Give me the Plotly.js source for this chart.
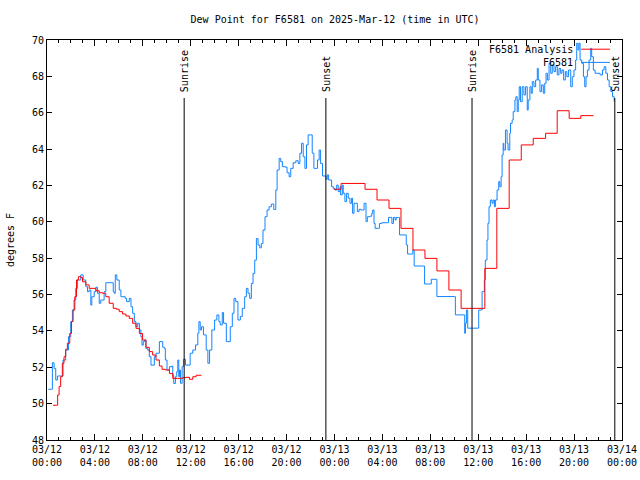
<!DOCTYPE html>
<html>
<head>
<meta charset="utf-8">
<script src="https://cdn.plot.ly/plotly-3.0.1.min.js"></script>
<style>html,body{margin:0;padding:0;background:#fff;}#chart{width:640px;height:480px;}</style>
</head>
<body>
<div id="chart"></div>
<script>
// hours since 2025-03-12 00:00 UTC
const obsHours = [0.11,0.39,0.45,0.59,0.73,0.87,1.14,1.34,1.56,1.79,1.98,2.12,2.26,2.40,2.54,2.82,3.02,3.24,3.38,3.52,3.66,3.74,3.94,4.08,4.22,4.36,4.49,4.77,4.91,5.42,5.53,5.61,5.70,5.83,6.03,6.17,6.53,6.64,6.87,7.01,7.15,7.29,7.43,7.57,7.71,7.84,7.93,8.04,8.15,8.26,8.40,8.54,8.68,8.96,9.10,9.38,9.66,9.80,9.88,10.02,10.22,10.44,10.50,10.58,10.72,10.83,10.92,11.00,11.06,11.14,11.28,11.39,11.56,11.84,11.95,12.17,12.40,12.59,12.68,12.79,12.90,13.06,13.29,13.43,13.57,13.76,13.99,14.18,14.35,14.46,14.63,14.74,14.97,15.19,15.30,15.47,15.61,15.75,15.94,16.14,16.30,16.50,16.64,16.78,16.92,17.06,17.20,17.34,17.48,17.62,17.76,17.89,18.03,18.20,18.37,18.54,18.73,18.93,19.10,19.21,19.38,19.51,19.65,19.93,20.04,20.21,20.35,20.55,20.77,20.97,21.11,21.25,21.39,21.53,21.66,21.80,21.97,22.14,22.28,22.44,22.58,22.72,22.84,23.00,23.28,23.40,23.51,23.76,23.90,24.04,24.18,24.31,24.46,24.51,24.65,24.73,24.87,25.01,25.15,25.29,25.43,25.51,25.63,25.79,25.91,26.05,26.19,26.35,26.47,26.63,26.74,26.97,27.11,27.19,27.30,27.39,27.67,27.75,27.95,28.45,28.51,28.70,28.79,28.92,29.06,29.15,29.34,29.43,29.91,29.99,30.10,30.46,30.54,30.65,31.43,31.52,31.99,32.08,32.49,32.55,34.00,34.09,34.78,34.87,34.93,35.01,35.12,35.96,36.04,36.25,36.32,36.45,36.51,36.59,36.73,36.81,36.90,37.01,37.15,37.24,37.35,37.43,37.57,37.71,37.80,37.91,37.99,38.08,38.13,38.27,38.41,38.49,38.63,38.69,38.83,38.92,39.06,39.14,39.25,39.34,39.42,39.53,39.67,39.81,39.95,40.09,40.17,40.31,40.42,40.51,40.65,40.79,40.93,41.01,41.15,41.29,41.43,41.55,41.66,41.77,41.91,42.05,42.18,42.32,42.46,42.60,42.74,42.88,42.99,43.13,43.27,43.40,43.54,43.72,43.85,43.99,44.13,44.22,44.33,44.41,44.50,44.64,44.78,44.89,45.00,45.11,45.25,45.39,45.47,45.61,45.75,46.17,46.37,46.51,46.65,46.79,46.93,47.07,47.21,47.35];
const obsDew = [50.79,50.79,52.25,51.94,51.30,51.52,51.52,52.40,52.95,53.68,54.51,55.15,55.70,56.34,56.80,57.08,56.80,56.43,56.16,56.25,55.42,55.88,56.16,56.40,56.07,55.52,55.70,56.16,56.65,56.65,56.16,56.07,57.08,56.80,56.25,55.88,55.79,55.61,55.79,55.33,54.97,54.51,54.23,54.42,54.05,53.68,53.22,53.41,53.50,53.04,52.95,52.58,52.12,52.58,52.77,53.41,53.10,53.04,52.40,51.85,52.03,52.07,51.57,51.11,51.48,51.76,52.40,51.48,51.85,51.12,52.03,52.44,52.12,52.12,52.77,52.95,53.23,53.87,54.51,54.05,54.23,53.78,52.95,52.22,52.95,54.05,54.60,54.88,54.51,54.33,55.01,54.42,53.41,53.41,54.23,54.97,55.79,55.61,54.60,54.79,55.24,55.88,56.34,56.07,55.79,56.61,57.16,57.89,59.08,58.72,58.57,58.81,59.55,60.28,60.65,60.83,60.98,60.68,61.75,62.85,63.49,63.31,63.03,63.00,62.70,62.48,62.94,63.25,63.36,63.21,63.77,64.32,63.58,62.94,64.23,64.78,64.78,63.77,62.94,62.94,63.40,63.95,63.21,62.52,62.34,62.58,62.30,61.93,61.84,61.75,62.02,61.66,61.93,61.48,62.02,61.57,61.11,61.57,61.30,61.02,61.30,60.47,61.02,61.02,60.56,60.69,60.65,60.65,61.02,60.01,60.28,60.31,60.47,60.65,59.91,59.64,59.64,59.91,59.95,59.95,60.24,60.24,59.91,60.24,60.10,60.24,60.24,59.28,59.28,58.73,58.23,58.23,58.45,57.57,57.57,56.58,56.58,56.84,56.84,55.89,55.89,54.88,54.88,53.87,54.42,55.15,54.15,54.15,55.15,55.15,56.16,56.16,56.80,57.90,59.00,59.92,60.83,61.20,61.02,61.20,60.83,61.20,61.75,62.21,61.93,62.48,63.68,64.32,63.95,65.05,64.32,63.95,64.87,65.42,65.60,66.06,66.70,66.88,66.06,66.70,67.43,66.61,67.43,66.98,67.43,66.15,66.70,67.43,67.07,67.71,67.43,67.80,68.44,67.80,67.16,67.53,67.07,67.62,68.17,67.80,68.72,68.17,68.63,68.26,68.53,68.08,68.44,68.17,68.35,67.80,68.26,67.98,68.35,67.43,67.98,68.35,68.90,69.82,69.45,69.82,68.90,68.72,67.98,67.43,67.98,68.35,68.90,69.54,69.08,68.35,68.17,68.08,68.35,68.53,68.17,67.80,67.43,67.16,66.88,66.61];

const anaHours = [0.50,0.78,0.89,1.01,1.14,1.28,1.42,1.56,1.70,1.90,2.04,2.18,2.32,2.46,2.62,2.82,2.96,3.24,3.52,3.85,4.08,4.36,4.63,4.91,5.19,5.53,5.81,6.03,6.31,6.59,6.87,7.15,7.43,7.71,7.98,8.26,8.54,8.82,9.10,9.38,9.60,9.88,10.22,10.50,10.92,11.33,11.61,11.89,12.17,12.45,12.87,18.0,23.95,24.55,25.55,26.55,27.55,28.55,29.55,30.55,31.55,32.55,33.55,34.57,35.55,36.55,37.55,38.58,39.59,40.59,41.62,42.59,43.59,44.56,45.62];
const anaDew = [49.91,49.91,50.48,50.94,51.48,52.22,52.58,52.99,53.32,53.86,54.51,55.15,55.88,56.80,56.98,56.94,56.70,56.53,56.34,56.34,56.21,56.10,56.07,55.88,55.52,55.24,55.19,55.06,54.93,54.82,54.69,54.42,54.14,53.86,53.50,53.10,52.86,52.67,52.40,52.07,51.89,51.85,51.66,51.39,51.39,51.43,51.45,51.34,51.48,51.56,51.58,null,61.79,62.11,62.11,61.79,61.20,60.74,59.64,58.45,57.99,57.30,56.25,55.24,55.24,57.44,60.74,63.40,64.23,64.59,64.87,66.11,65.69,65.84,65.84];

const sunHours = [11.45, 23.28, 35.48, 47.4];
const sunLabels = ['Sunrise', 'Sunset', 'Sunrise', 'Sunset'];

const tickHours = [0,4,8,12,16,20,24,28,32,36,40,44,48];
const tickLabels = ['03/12<br>00:00','03/12<br>04:00','03/12<br>08:00','03/12<br>12:00','03/12<br>16:00','03/12<br>20:00','03/13<br>00:00','03/13<br>04:00','03/13<br>08:00','03/13<br>12:00','03/13<br>16:00','03/13<br>20:00','03/14<br>00:00'];

const seriesNames = ['F6581 Analysis', 'F6581'];
const seriesColors = ['#ff0000', '#1284ff'];

const FONT = 'DejaVu Sans Mono, Liberation Mono, monospace';

const traces = [
  {x: obsHours, y: obsDew, type: 'scatter', mode: 'lines', name: seriesNames[1],
   line: {color: seriesColors[1], width: 1, shape: 'hv'}},
  {x: anaHours, y: anaDew, type: 'scatter', mode: 'lines', name: seriesNames[0],
   connectgaps: false, line: {color: seriesColors[0], width: 1, shape: 'hv'}}
];

const shapes = [];
const annotations = [];
sunHours.forEach((h, i) => {
  shapes.push({type: 'line', xref: 'x', yref: 'paper', x0: h, x1: h, y0: 0, y1: 0.855,
    line: {color: '#000', width: 1}});
  annotations.push({xref: 'x', yref: 'paper', x: h, y: 0.865, yanchor: 'bottom', xanchor: 'center',
    text: sunLabels[i], textangle: -90, showarrow: false, font: {family: FONT, size: 10, color: '#000'}});
});
// custom legend (text left, sample right)
const legY = [0.977, 0.944];
seriesNames.forEach((n, i) => {
  annotations.push({xref: 'paper', yref: 'paper', x: 0.919, y: legY[i], xanchor: 'right', yanchor: 'middle',
    text: n, showarrow: false, font: {family: FONT, size: 10, color: '#000'}});
  shapes.push({type: 'line', xref: 'paper', yref: 'paper', x0: 0.929, x1: 0.979, y0: legY[i], y1: legY[i],
    line: {color: seriesColors[i], width: 1}});
});

const layout = {
  width: 640, height: 480,
  margin: {l: 47, r: 18, t: 40, b: 40},
  paper_bgcolor: '#fff', plot_bgcolor: '#fff',
  showlegend: false,
  font: {family: FONT, size: 10, color: '#000'},
  title: {text: 'Dew Point for F6581 on 2025-Mar-12 (time in UTC)', x: 0.5235, xanchor: 'center',
          y: 0.96, yanchor: 'middle', font: {family: FONT, size: 10, color: '#000'}},
  xaxis: {range: [0, 48], tickmode: 'array', tickvals: tickHours, ticktext: tickLabels,
          ticks: 'inside', ticklen: 6, tickcolor: '#000', mirror: 'allticks', showline: true,
          linecolor: '#000', linewidth: 1, showgrid: false, zeroline: false,
          tickfont: {family: FONT, size: 10},
          minor: {dtick: 1, ticks: 'inside', ticklen: 3, tickcolor: '#000', showgrid: false}},
  yaxis: {range: [48, 70], dtick: 2, ticks: 'inside', ticklen: 5, tickcolor: '#000', mirror: 'allticks',
          showline: true, linecolor: '#000', linewidth: 1, showgrid: false, zeroline: false,
          tickfont: {family: FONT, size: 10},
          title: {text: 'degrees F', standoff: 15, font: {family: FONT, size: 10}}},
  shapes: shapes,
  annotations: annotations
};

Plotly.newPlot('chart', traces, layout, {displayModeBar: false, staticPlot: true});
</script>
</body>
</html>
